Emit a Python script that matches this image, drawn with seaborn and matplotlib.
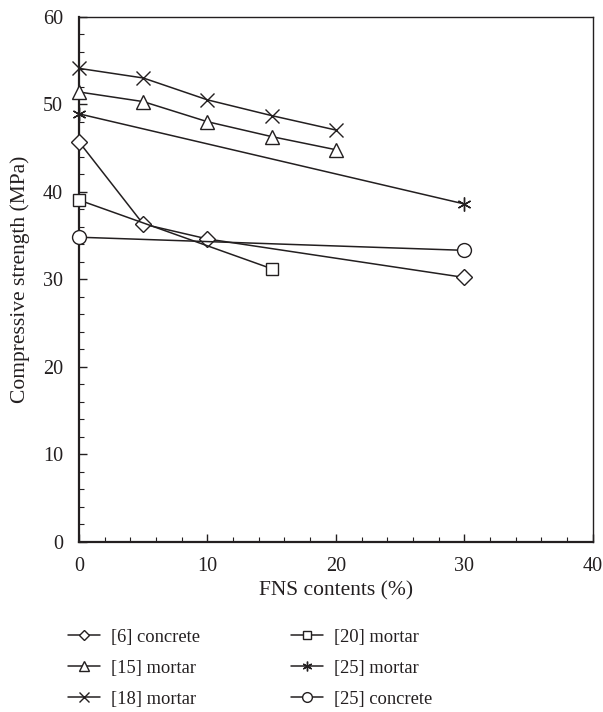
import matplotlib
matplotlib.use("Agg")
import matplotlib.pyplot as plt
import seaborn as sns
import pandas as pd

sns.set_theme(style="ticks")
plt.rcParams['font.family'] = ['Liberation Serif', 'DejaVu Serif']

INK = '#231f20'

labels = ["[6] concrete", "[15] mortar", "[18] mortar", "[20] mortar", "[25] mortar", "[25] concrete"]
x_6c = [0, 5, 10, 30]
y_6c = [45.7, 36.3, 34.6, 30.2]
x_15m = [0, 5, 10, 15, 20]
y_15m = [51.4, 50.3, 48.0, 46.3, 44.8]
x_18m = [0, 5, 10, 15, 20]
y_18m = [54.1, 53.0, 50.5, 48.7, 47.05]
x_20m = [0, 15]
y_20m = [39.05, 31.2]
x_25m = [0, 30]
y_25m = [48.9, 38.6]
x_25c = [0, 30]
y_25c = [34.8, 33.3]

series = [
    (labels[0], x_6c, y_6c, 'D', 8),
    (labels[1], x_15m, y_15m, '^', 10),
    (labels[2], x_18m, y_18m, 'x', 10),
    (labels[3], x_20m, y_20m, 's', 9),
    (labels[4], x_25m, y_25m, (6, 2, 0), 10),
    (labels[5], x_25c, y_25c, 'o', 10),
]

fig = plt.figure(figsize=(6.03, 7.12), dpi=100)
ax = fig.add_axes([0.131, 0.2392, 0.852, 0.7373])

for name, xs, ys, mk, ms in series:
    df = pd.DataFrame({"x": xs, "y": ys})
    sns.lineplot(data=df, x="x", y="y", ax=ax, color=INK, linewidth=1.1,
                 marker=mk, markersize=ms, markerfacecolor='white',
                 markeredgecolor=INK, markeredgewidth=1.0, label=name,
                 legend=False, clip_on=False, zorder=5)

ax.set_xlim(0, 40)
ax.set_ylim(0, 60)
ax.set_xticks([0, 10, 20, 30, 40])
ax.set_yticks([0, 10, 20, 30, 40, 50, 60])
ax.set_xticks(range(0, 41, 2), minor=True)
ax.set_yticks(range(0, 61, 2), minor=True)
ax.tick_params(axis='both', which='major', direction='in', length=6, width=1.0,
               labelsize=14.5, colors=INK, top=False, right=False)
ax.tick_params(axis='y', which='major', pad=11.5)
ax.tick_params(axis='x', which='major', pad=11)
ax.tick_params(axis='both', which='minor', direction='in', length=3.5, width=0.8,
               top=False, right=False, colors=INK)
for s in ax.spines.values():
    s.set_color(INK)
    s.set_linewidth(1.0)
ax.spines['left'].set_linewidth(1.6)
ax.spines['bottom'].set_linewidth(1.6)

ax.set_xlabel("FNS contents (%)", fontsize=15.5, color=INK, labelpad=4)
ax.set_ylabel("Compressive strength (MPa)", fontsize=15.5, color=INK, labelpad=9)

handles, labs = ax.get_legend_handles_labels()
leg = fig.legend(handles, labs, ncol=2, loc='upper left',
                 bbox_to_anchor=(0.085, 0.14), frameon=False, fontsize=13.3,
                 handlelength=1.75, handletextpad=0.6, columnspacing=4.9,
                 labelspacing=0.75, markerscale=0.7)
for t in leg.get_texts():
    t.set_color(INK)

fig.savefig("out.png", dpi=100)
